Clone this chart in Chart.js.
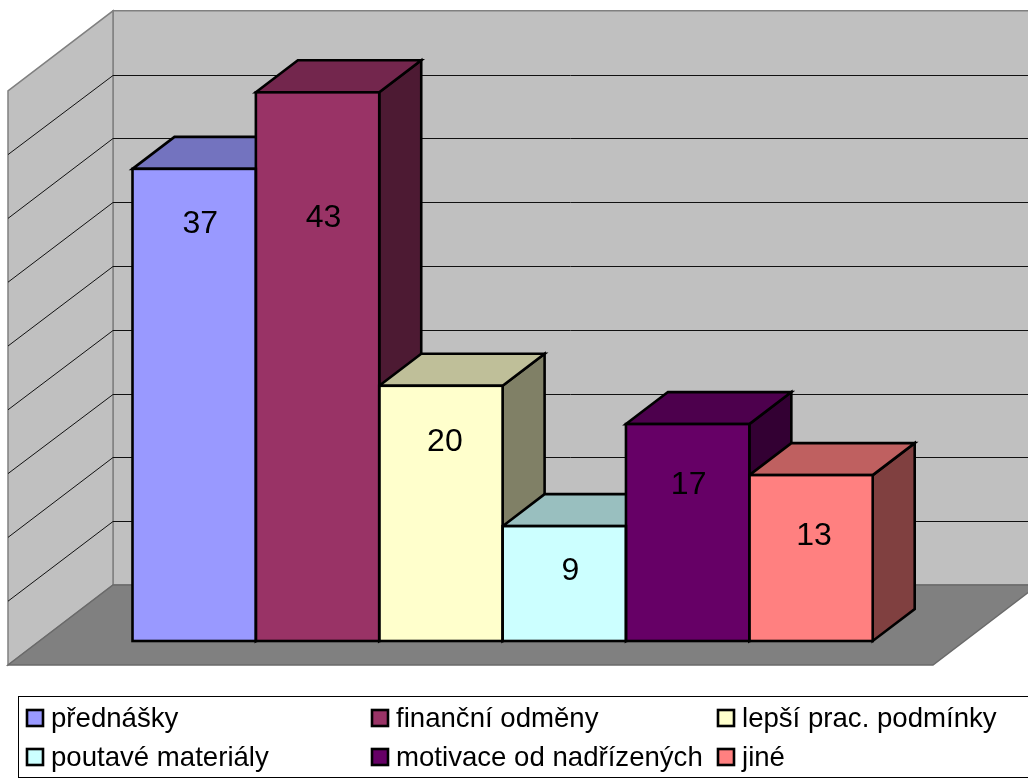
<!DOCTYPE html>
<html>
<head>
<meta charset="utf-8">
<title>Graf</title>
<script src="https://cdn.jsdelivr.net/npm/chart.js@4"></script>
<style>
  html, body { margin: 0; background: #fff; overflow: hidden; }
  canvas { display: block; }
</style>
</head>
<body>
<canvas id="graf" width="1028" height="780"></canvas>
<script>
const kategorie = ['přednášky', 'finanční odměny', 'lepší prac. podmínky', 'poutavé materiály', 'motivace od nadřízených', 'jiné'];
const hodnoty = [37, 43, 20, 9, 17, 13];
const barvy = ['#9999FF', '#993366', '#FFFFCC', '#CCFFFF', '#660066', '#FF8080'];

// hloubka sloupce a rozmery "mistnosti" kolem grafu
const HLOUBKA = { x: 42, y: -32 };
const ZED = { levo: 8, zadni: 113, posun: 56, predni: 24, dx: 105 };
const TLOUSTKA = 2.6;

// posun popisku vuci stredu sloupce / hornimu okraji
const posunPopisku = [[6, 55], [6, 126], [4, 56], [6, 45], [1, 61], [3, 61]];

// sloupce legendy a radky
const legendaX = [27, 372, 718];
const legendaY = [718, 757];

function ztmav(hex, k) {
  const n = parseInt(hex.slice(1), 16);
  const r = Math.round((n >> 16 & 255) * k);
  const g = Math.round((n >> 8 & 255) * k);
  const b = Math.round((n & 255) * k);
  return `rgb(${r},${g},${b})`;
}

function polygon(ctx, body, vypln, cara, sirka) {
  ctx.beginPath();
  body.forEach((b, i) => i ? ctx.lineTo(b[0], b[1]) : ctx.moveTo(b[0], b[1]));
  ctx.closePath();
  if (vypln) { ctx.fillStyle = vypln; ctx.fill(); }
  if (cara) { ctx.strokeStyle = cara; ctx.lineWidth = sirka; ctx.stroke(); }
}

const mistnost = {
  id: 'mistnost',
  beforeDatasetsDraw(chart) {
    const { ctx, scales: { y } } = chart;
    const dno = y.getPixelForValue(0);
    const vrch = y.getPixelForValue(y.max);
    const W = chart.width;
    const zad = v => y.getPixelForValue(v) - ZED.posun;
    const lev = v => y.getPixelForValue(v) + ZED.predni;
    ctx.save();
    // zadni stena
    polygon(ctx, [[ZED.zadni, vrch - ZED.posun], [W + 2, vrch - ZED.posun], [W + 2, dno - ZED.posun], [ZED.zadni, dno - ZED.posun]], '#C0C0C0', '#808080', 1.5);
    // leva stena
    polygon(ctx, [[ZED.levo, vrch + ZED.predni], [ZED.zadni, vrch - ZED.posun], [ZED.zadni, dno - ZED.posun], [ZED.levo, dno + ZED.predni]], '#C0C0C0', '#808080', 1.5);
    // podlaha
    const predniPrava = 933;
    polygon(ctx, [[ZED.levo, dno + ZED.predni], [ZED.zadni, dno - ZED.posun], [predniPrava + ZED.dx, dno - ZED.posun], [predniPrava, dno + ZED.predni]], '#808080', '#6a6a6a', 1.5);
    // mrizka na stenach
    ctx.strokeStyle = '#111';
    ctx.lineWidth = 1;
    y.ticks.forEach(t => {
      if (t.value === 0 || t.value === y.max) return;
      const yz = Math.round(zad(t.value)) + 0.5;
      ctx.beginPath();
      ctx.moveTo(ZED.levo, lev(t.value));
      ctx.lineTo(ZED.zadni, yz);
      ctx.lineTo(W, yz);
      ctx.stroke();
    });
    // horni a bocni steny kvadru, zleva doprava kvuli prekryvani
    const meta = chart.getDatasetMeta(0);
    meta.data.forEach((sloupec, i) => {
      const w = sloupec.width / 2;
      const l = sloupec.x - w, r = sloupec.x + w, t = sloupec.y, b = sloupec.base;
      const dx = HLOUBKA.x, dy = HLOUBKA.y;
      polygon(ctx, [[r, t], [r + dx, t + dy], [r + dx, b + dy], [r, b]], ztmav(barvy[i], 0.5), '#000', TLOUSTKA);
      polygon(ctx, [[l, t], [l + dx, t + dy], [r + dx, t + dy], [r, t]], ztmav(barvy[i], 0.75), '#000', TLOUSTKA);
    });
    ctx.restore();
  },
  afterDatasetsDraw(chart) {
    const { ctx } = chart;
    const meta = chart.getDatasetMeta(0);
    ctx.save();
    meta.data.forEach(sloupec => {
      const w = sloupec.width / 2;
      ctx.strokeStyle = '#000';
      ctx.lineWidth = TLOUSTKA;
      ctx.strokeRect(sloupec.x - w, sloupec.y, w * 2, sloupec.base - sloupec.y);
    });
    // hodnoty na sloupcich
    ctx.fillStyle = '#000';
    ctx.font = '32px "Liberation Sans", Arial, sans-serif';
    ctx.textAlign = 'center';
    ctx.textBaseline = 'middle';
    meta.data.forEach((sloupec, i) => {
      ctx.fillText(hodnoty[i], sloupec.x + posunPopisku[i][0], sloupec.y + posunPopisku[i][1]);
    });
    ctx.restore();
  }
};

const legenda = {
  id: 'legenda',
  afterDraw(chart) {
    const { ctx } = chart;
    ctx.save();
    ctx.strokeStyle = '#000';
    ctx.lineWidth = 1;
    ctx.strokeRect(18.5, 696.5, chart.width + 10, 81);
    ctx.font = '27.6px "Liberation Sans", Arial, sans-serif';
    ctx.textAlign = 'left';
    ctx.textBaseline = 'alphabetic';
    chart.data.labels.forEach((text, i) => {
      const x = legendaX[i % 3];
      const y = legendaY[Math.floor(i / 3)];
      ctx.fillStyle = barvy[i];
      ctx.fillRect(x, y - 8, 16, 16);
      ctx.strokeStyle = '#000';
      ctx.lineWidth = TLOUSTKA;
      ctx.strokeRect(x, y - 8, 16, 16);
      ctx.fillStyle = '#000';
      ctx.fillText(text, x + 24, y + 9);
    });
    ctx.restore();
  }
};

new Chart(document.getElementById('graf'), {
  type: 'bar',
  data: {
    labels: kategorie,
    datasets: [{
      data: hodnoty,
      backgroundColor: barvy,
      borderWidth: 0,
      categoryPercentage: 1,
      barPercentage: 1
    }]
  },
  options: {
    responsive: false,
    animation: false,
    layout: { padding: { left: 132.5, right: 155.3, top: 66.8, bottom: 139 } },
    plugins: { legend: { display: false }, tooltip: { enabled: false } },
    scales: {
      x: { display: false },
      y: { display: false, min: 0, max: 45, ticks: { stepSize: 5 } }
    }
  },
  plugins: [mistnost, legenda]
});
</script>
</body>
</html>
